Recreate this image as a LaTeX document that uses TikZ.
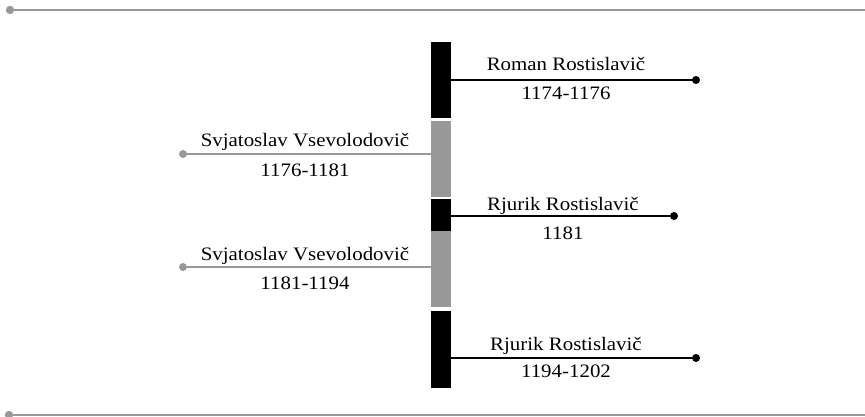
\documentclass[tikz,border=0pt]{standalone}
\usepackage{fontspec}
\setmainfont{Liberation Serif}[FakeStretch=1.1]
\definecolor{midgray}{HTML}{999999}
\tikzset{
  seg/.style={draw=none, minimum width=20pt, inner sep=0pt, outer sep=0pt},
  blackseg/.style={seg, fill=black},
  grayseg/.style={seg, fill=midgray},
  blackline/.style={draw=black, line width=1.6pt},
  grayline/.style={draw=midgray, line width=1.6pt},
  frameline/.style={draw=midgray, line width=2pt},
  lbl/.style={anchor=base, inner sep=0pt, font=\fontsize{19}{22}\selectfont},
}
\begin{document}
\begin{tikzpicture}[x=1pt,y=-1pt]
\useasboundingbox (0,0) rectangle (865,417);
% frame lines
\coordinate (ta) at (10,10);
\coordinate (tb) at (865,10);
\coordinate (ba) at (9,415);
\coordinate (bb) at (865,415);
\draw[frameline] (ta) -- (tb);
\fill[midgray] (ta) circle (4.2);
\draw[frameline] (ba) -- (bb);
\fill[midgray] (ba) circle (4.2);
% bar segments
\node[blackseg, minimum height=76pt] (s1) at (441,80) {};
\node[grayseg, minimum height=76pt] (s2) at (441,159) {};
\node[blackseg, minimum height=32pt] (s3) at (441,215) {};
\node[grayseg, minimum height=76pt] (s4) at (441,269) {};
\node[blackseg, minimum height=77pt] (s5) at (441,349.5) {};
% end points
\coordinate (d1) at (696,80);
\coordinate (d2) at (183,154);
\coordinate (d3) at (674,216);
\coordinate (d4) at (183,267);
\coordinate (d5) at (696,358);
% connectors
\draw[blackline] (s1.east) -- (d1);
\fill[black] (d1) circle (4);
\draw[grayline] (s2.west |- d2) -- (d2);
\fill[midgray] (d2) circle (4);
\draw[blackline] (s3.east |- d3) -- (d3);
\fill[black] (d3) circle (4);
\draw[grayline] (s4.west |- d4) -- (d4);
\fill[midgray] (d4) circle (4);
\draw[blackline] (s5.east |- d5) -- (d5);
\fill[black] (d5) circle (4);
% labels
\node[lbl] (n1) at (566,71) {Roman Rostislavič};
\node[lbl] (y1) at (566,100) {1174-1176};
\node[lbl] (n2) at (305,147) {Svjatoslav Vsevolodovič};
\node[lbl] (y2) at (305,177) {1176-1181};
\node[lbl] (n3) at (563,210) {Rjurik Rostislavič};
\node[lbl] (y3) at (563,239) {1181};
\node[lbl] (n4) at (305,260) {Svjatoslav Vsevolodovič};
\node[lbl] (y4) at (305,289) {1181-1194};
\node[lbl] (n5) at (566,350) {Rjurik Rostislavič};
\node[lbl] (y5) at (566,377) {1194-1202};
\end{tikzpicture}
\end{document}
